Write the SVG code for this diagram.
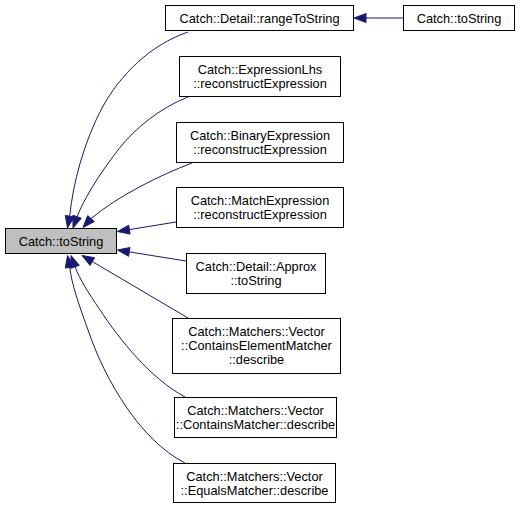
<svg xmlns="http://www.w3.org/2000/svg" width="520" height="508" viewBox="0 0 520 508">
<style>
.node rect{fill:#ffffff;stroke:#000000;stroke-width:1}
.node.hl rect{fill:#bfbfbf}
.node text{font-family:"Liberation Sans",Arial,sans-serif;font-size:12.8px;fill:#000000;text-anchor:middle}
.edge path{fill:none;stroke:#191970;stroke-width:1}
.edge polygon{fill:#191970;stroke:#191970;stroke-width:1}
</style>
<rect x="0" y="0" width="520" height="508" fill="#ffffff"/>
<g id="connectors">
<g class="edge" id="e_range_to_left">
<path d="M188,32 C150,45 120,75 102,108 C84,142 73,183 69.7,216.2"/>
<polygon points="65.3,215.4 74.1,217 67.5,228"/>
</g>
<g class="edge" id="e_lhs">
<path d="M188,97 C160,108 135,128 118,150 C98,176 84,199 77.1,216.7"/>
<polygon points="72.9,215.2 81.3,218.2 73,228"/>
</g>
<g class="edge" id="e_binary">
<path d="M192,163 C160,175 118,196 91,218.6"/>
<polygon points="87.7,215.6 94.3,221.6 83,227.5"/>
</g>
<g class="edge" id="e_match">
<path d="M176,222 L129.4,229.6"/>
<polygon points="128.7,225.2 130.1,234.1 117.5,231.5"/>
</g>
<g class="edge" id="e_approx">
<path d="M186,261 L129.3,251.9"/>
<polygon points="130,247.5 128.6,256.3 117.5,250"/>
</g>
<g class="edge" id="e_contelem">
<path d="M188,318 L92.4,261.6"/>
<polygon points="94.6,257.7 90.1,265.5 82,255.5"/>
</g>
<g class="edge" id="e_contains">
<path d="M185,397 C150,378 120,340 100,310 C88,292 80,280 75.1,266.8"/>
<polygon points="79.3,265.3 70.9,268.3 71,255.5"/>
</g>
<g class="edge" id="e_equals">
<path d="M185,463 C140,440 105,380 88,330 C78,302 72,285 69.7,267.3"/>
<polygon points="74.1,266.5 65.3,268.1 67.5,255.5"/>
</g>
<g class="edge" id="e_right_to_range">
<path d="M403,18 L366,18"/>
<polygon points="366,13.5 366,22.5 354,18"/>
</g>
</g>
<g class="node hl" id="n_tostring_left">
<rect x="5.5" y="228.5" width="111" height="25"/>
<text x="61" y="245.5">Catch::toString</text>
</g>
<g class="node" id="n_rangetostring">
<rect x="165.5" y="5.5" width="188" height="25"/>
<text x="259.5" y="22.5">Catch::Detail::rangeToString</text>
</g>
<g class="node" id="n_tostring_right">
<rect x="403.5" y="5.5" width="111" height="25"/>
<text x="459" y="22.5">Catch::toString</text>
</g>
<g class="node" id="n_exprlhs">
<rect x="179.5" y="56.5" width="161" height="40"/>
<text x="260" y="74">Catch::ExpressionLhs</text>
<text x="260" y="88">::reconstructExpression</text>
</g>
<g class="node" id="n_binary">
<rect x="176.5" y="122.5" width="167" height="40"/>
<text x="260" y="140">Catch::BinaryExpression</text>
<text x="260" y="154">::reconstructExpression</text>
</g>
<g class="node" id="n_match">
<rect x="176.5" y="187.5" width="167" height="40"/>
<text x="260" y="205">Catch::MatchExpression</text>
<text x="260" y="219">::reconstructExpression</text>
</g>
<g class="node" id="n_approx">
<rect x="186.5" y="253.5" width="139" height="40"/>
<text x="256" y="271">Catch::Detail::Approx</text>
<text x="256" y="285">::toString</text>
</g>
<g class="node" id="n_containselement">
<rect x="172.5" y="318.5" width="168" height="55"/>
<text x="256.5" y="336">Catch::Matchers::Vector</text>
<text x="256.5" y="350">::ContainsElementMatcher</text>
<text x="256.5" y="364">::describe</text>
</g>
<g class="node" id="n_contains">
<rect x="174.5" y="397.5" width="162" height="40"/>
<text x="255.5" y="415">Catch::Matchers::Vector</text>
<text x="255.5" y="429">::ContainsMatcher::describe</text>
</g>
<g class="node" id="n_equals">
<rect x="173.5" y="463.5" width="162" height="39"/>
<text x="254.5" y="480.5">Catch::Matchers::Vector</text>
<text x="254.5" y="494.5">::EqualsMatcher::describe</text>
</g>
</svg>
